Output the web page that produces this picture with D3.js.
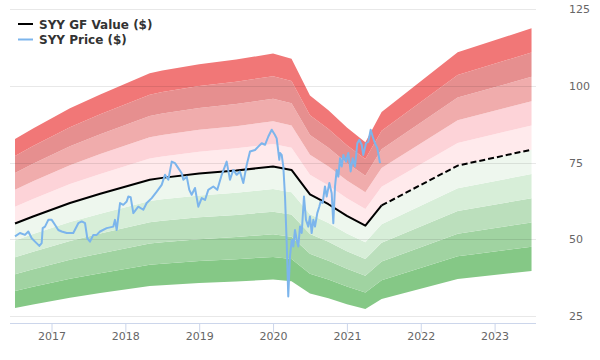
<!DOCTYPE html>
<html>
<head>
<meta charset="utf-8">
<script src="https://cdn.jsdelivr.net/npm/d3@7"></script>
<style>
  html, body { margin: 0; padding: 0; background: #fff; }
  svg { display: block; font-family: "DejaVu Sans", sans-serif; }
</style>
</head>
<body>
<svg id="chart" width="600" height="360"></svg>
<script>
// ---- data (decimal years) ----
const valueYears = [2016.506, 2016.75, 2017.25, 2017.66, 2018.33, 2018.5, 2019.0, 2019.5, 2020.0, 2020.25, 2020.5, 2020.75, 2021.0, 2021.25, 2021.47, 2022.5, 2023.5];
const valueVals  = [55.1, 57.4, 61.8, 64.8, 69.4, 70.0, 71.4, 72.4, 73.7, 72.6, 64.6, 61.4, 57.6, 54.4, 61.0, 74.0, 79.2];
const estimateStart = 2021.47; // GF value becomes dashed (estimate) after this

const priceYears = [
  2016.506, 2016.573, 2016.641, 2016.686, 2016.732, 2016.777, 2016.835, 2016.867, 2016.881, 2016.912,
  2016.957, 2017.003, 2017.047, 2017.092, 2017.138, 2017.206, 2017.295, 2017.363, 2017.409, 2017.454,
  2017.485, 2017.521, 2017.566, 2017.612, 2017.657, 2017.747, 2017.837, 2017.860, 2017.883, 2017.928,
  2017.972, 2018.018, 2018.040, 2018.072, 2018.108, 2018.175, 2018.243, 2018.289, 2018.357, 2018.425,
  2018.492, 2018.537, 2018.582, 2018.628, 2018.672, 2018.717, 2018.763, 2018.785, 2018.831, 2018.866,
  2018.898, 2018.943, 2018.988, 2019.034, 2019.079, 2019.123, 2019.191, 2019.245, 2019.305, 2019.372,
  2019.417, 2019.462, 2019.508, 2019.552, 2019.597, 2019.643, 2019.688, 2019.756, 2019.800, 2019.846,
  2019.891, 2019.936, 2019.982, 2020.026, 2020.049, 2020.085, 2020.094, 2020.117, 2020.139, 2020.162,
  2020.185, 2020.206, 2020.229, 2020.253, 2020.274, 2020.297, 2020.320, 2020.342, 2020.365, 2020.388,
  2020.419, 2020.446, 2020.477, 2020.500, 2020.523, 2020.545, 2020.568, 2020.599, 2020.626, 2020.645,
  2020.672, 2020.703, 2020.726, 2020.762, 2020.794, 2020.816, 2020.839, 2020.862, 2020.884, 2020.907,
  2020.930, 2020.951, 2020.988, 2021.019, 2021.051, 2021.078, 2021.110, 2021.141, 2021.168, 2021.200,
  2021.222, 2021.259, 2021.290, 2021.322, 2021.349, 2021.380, 2021.412, 2021.448
];
const priceVals = [
  50.9, 52.0, 51.4, 52.5, 50.3, 49.2, 47.8, 48.7, 53.6, 54.1,
  56.3, 56.3, 54.7, 53.0, 52.5, 52.0, 52.0, 55.2, 55.8, 55.2,
  50.3, 49.2, 51.4, 51.4, 52.5, 53.6, 54.1, 56.3, 53.0, 61.8,
  61.2, 62.3, 63.9, 63.7, 58.5, 60.6, 59.6, 61.8, 63.4, 65.5,
  67.7, 71.0, 69.4, 75.3, 74.8, 73.2, 71.5, 69.4, 70.4, 66.1,
  64.5, 66.7, 60.6, 63.4, 62.8, 66.1, 67.2, 66.1, 71.0, 75.3,
  69.4, 72.6, 71.0, 72.1, 68.3, 74.2, 78.6, 79.1, 80.2, 81.3,
  80.8, 83.5, 85.7, 84.0, 82.9, 75.9, 78.1, 77.5, 73.7, 63.9,
  48.7, 31.3, 44.3, 49.8, 47.6, 53.0, 49.8, 47.6, 54.1, 52.0,
  63.9, 56.3, 54.1, 57.4, 52.0, 56.3, 54.1, 58.5, 60.6, 62.3,
  61.8, 67.2, 63.9, 68.3, 65.0, 55.2, 67.2, 72.6, 70.4, 76.4,
  73.7, 77.5, 75.3, 78.1, 72.1, 76.4, 73.7, 81.3, 82.4, 80.8,
  77.5, 81.3, 81.8, 85.7, 83.5, 81.3, 79.7, 74.8
];

const bandLevels = [0.5, 0.6, 0.7, 0.8, 0.9, 1.0, 1.1, 1.2, 1.3, 1.4, 1.5];
const bandColors = ["#85c886", "#a0d3a1", "#bbdfbc", "#d7eed8", "#eef7ee",
                    "#ffeaec", "#fdd3d8", "#f0acac", "#e68f8f", "#f17777"];

const yTicks = [25, 50, 75, 100, 125];
const xTicks = [2017, 2018, 2019, 2020, 2021, 2022, 2023];

const legendItems = [
  { label: "SYY GF Value ($)", color: "#000000" },
  { label: "SYY Price ($)", color: "#7cb5ec" }
];

// ---- layout ----
const svg = d3.select("#chart");
const plotLeft = 10, plotRight = 536, plotBottom = 323.5;

const x = d3.scaleLinear().domain([2017, 2023]).range([51.5, 494.6]);
const y = d3.scaleLinear().domain([25, 125]).range([315.8, 9.3]);

const valueData = valueYears.map((t, i) => ({ t, v: valueVals[i] }));
const priceData = priceYears.map((t, i) => ({ t, v: priceVals[i] }));

// bands
const gBands = svg.append("g");
for (let k = 0; k < bandLevels.length - 1; k++) {
  const lo = bandLevels[k], hi = bandLevels[k + 1];
  const area = d3.area()
    .x(d => x(d.t))
    .y0(d => y(d.v * lo))
    .y1(d => y(d.v * hi));
  gBands.append("path")
    .datum(valueData)
    .attr("d", area)
    .attr("fill", bandColors[k]);
}

// gridlines
const gGrid = svg.append("g");
gGrid.selectAll("line").data(yTicks).join("line")
  .attr("x1", plotLeft).attr("x2", plotRight)
  .attr("y1", d => Math.round(y(d)) + 0.5).attr("y2", d => Math.round(y(d)) + 0.5)
  .attr("stroke", "rgba(0,0,0,0.09)").attr("stroke-width", 1);

// right axis labels
svg.append("g").selectAll("text").data(yTicks).join("text")
  .attr("x", 569).attr("y", d => y(d) + 4)
  .attr("font-size", 11).attr("fill", "#666")
  .text(d => d);

// x axis
const xAxis = d3.axisBottom(x).tickValues(xTicks).tickFormat(d3.format("d")).tickSize(9).tickSizeOuter(0);
const gx = svg.append("g").attr("transform", `translate(0,${plotBottom})`).call(xAxis);
gx.select(".domain").remove();
gx.append("line").attr("x1", plotLeft).attr("x2", plotRight).attr("y1", 0).attr("y2", 0)
  .attr("stroke", "#ccd6eb");
gx.selectAll(".tick line").attr("stroke", "#ccd6eb");
gx.selectAll(".tick text").attr("font-size", 11).attr("fill", "#666")
  .attr("font-family", "DejaVu Sans, sans-serif").attr("dy", "0.45em");

// GF value line: solid then dashed
const line = d3.line().x(d => x(d.t)).y(d => y(d.v));
const solidPart = valueData.filter(d => d.t <= estimateStart);
const dashedPart = valueData.filter(d => d.t >= estimateStart);
svg.append("path").datum(solidPart).attr("d", line)
  .attr("fill", "none").attr("stroke", "#000").attr("stroke-width", 2).attr("stroke-linejoin", "round");
svg.append("path").datum(dashedPart).attr("d", line)
  .attr("fill", "none").attr("stroke", "#000").attr("stroke-width", 2).attr("stroke-dasharray", "6,3");

// price line
svg.append("path").datum(priceData).attr("d", line)
  .attr("fill", "none").attr("stroke", "#7cb5ec").attr("stroke-width", 2).attr("stroke-linejoin", "round");

// legend
const gLeg = svg.append("g");
legendItems.forEach((it, i) => {
  const cy = 24 + i * 15.5;
  gLeg.append("line").attr("x1", 18).attr("x2", 33).attr("y1", cy).attr("y2", cy)
    .attr("stroke", it.color).attr("stroke-width", 2);
  gLeg.append("text").attr("x", 39).attr("y", cy + 4.5)
    .attr("font-size", 12).attr("font-weight", "bold").attr("fill", "#333")
    .text(it.label);
});
</script>
</body>
</html>
